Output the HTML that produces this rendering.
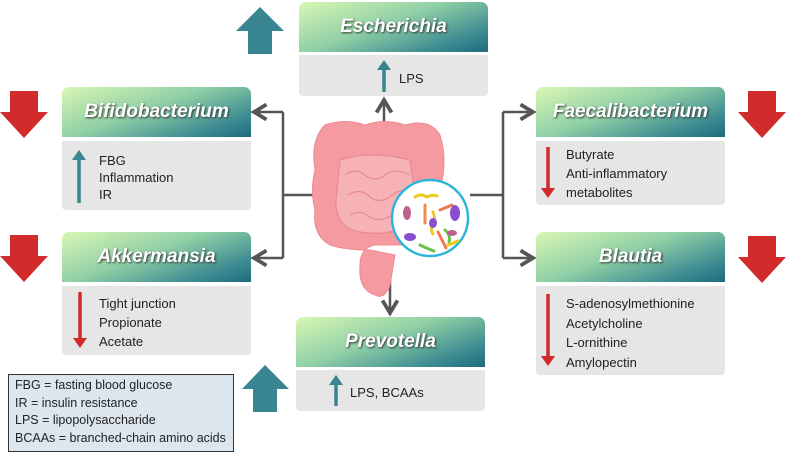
<!DOCTYPE html>
<html><head><style>
body{margin:0;width:787px;height:457px;background:#fff;position:relative;overflow:hidden;font-family:"Liberation Sans",sans-serif;}
.h{position:absolute;width:189px;height:50px;border-radius:7px 7px 0 0;background:linear-gradient(160deg,#d9f7b4 0%,#8fcfa6 45%,#3f8d92 80%,#1f6a80 100%);color:#fff;font-weight:bold;font-style:italic;font-size:19px;text-align:center;line-height:50px;text-shadow:1px 1px 2px #333;}
.b{position:absolute;width:189px;background:#e6e6e6;border-radius:0 0 4px 4px;font-size:13px;color:#222;line-height:17px;}
.b .t{position:absolute;left:37px;}
svg{position:absolute;left:0;top:0;z-index:5;}
.leg{position:absolute;left:8px;top:374px;width:226px;height:78px;border:1.5px solid #333;background:#dce6ee;font-size:12.5px;line-height:17.5px;padding:2px 0 0 6px;box-sizing:border-box;color:#222;}
</style></head><body>
<div class="h" style="left:299px;top:2px">Escherichia</div>
<div class="b" style="left:299px;top:55px;height:41px"><div class="t" style="left:100px;top:15px">LPS</div></div>
<div class="h" style="left:62px;top:87px">Bifidobacterium</div>
<div class="b" style="left:62px;top:141px;height:69px"><div class="t" style="left:37px;top:11px">FBG<br>Inflammation<br>IR</div></div>
<div class="h" style="left:62px;top:232px">Akkermansia</div>
<div class="b" style="left:62px;top:286px;height:69px"><div class="t" style="left:37px;top:8px;line-height:19px">Tight junction<br>Propionate<br>Acetate</div></div>
<div class="h" style="left:536px;top:87px">Faecalibacterium</div>
<div class="b" style="left:536px;top:141px;height:64px"><div class="t" style="left:30px;top:4px;line-height:19px">Butyrate<br>Anti-inflammatory<br>metabolites</div></div>
<div class="h" style="left:536px;top:232px">Blautia</div>
<div class="b" style="left:536px;top:286px;height:89px"><div class="t" style="left:30px;top:8px;line-height:19.5px">S-adenosylmethionine<br>Acetylcholine<br>L-ornithine<br>Amylopectin</div></div>
<div class="h" style="left:296px;top:317px">Prevotella</div>
<div class="b" style="left:296px;top:370px;height:41px"><div class="t" style="left:54px;top:14px">LPS, BCAAs</div></div>
<div class="leg">FBG = fasting blood glucose<br>IR = insulin resistance<br>LPS = lipopolysaccharide<br>BCAAs = branched-chain amino acids</div>
<svg width="787" height="457">
<defs><marker id="a" markerWidth="8" markerHeight="8" refX="6" refY="4" orient="auto"><path d="M1,1 L6,4 L1,7" fill="none" stroke="#555" stroke-width="1.5"/></marker></defs>
<g stroke="#555" stroke-width="2.5" fill="none">
<path d="M283,112 V258"/><path d="M283,112 H254" marker-end="url(#a)"/><path d="M283,258 H254" marker-end="url(#a)"/><path d="M313,195 H283"/>
<path d="M503,112 V258"/><path d="M503,112 H533" marker-end="url(#a)"/><path d="M503,258 H533" marker-end="url(#a)"/><path d="M470,195 H503"/>
<path d="M384,132 V100" marker-end="url(#a)"/><path d="M390,270 V313" marker-end="url(#a)"/>
</g>
<g fill="#f59aa1" stroke="#ee8a92" stroke-width="1">
<path d="M325,125 Q345,118 365,125 Q385,118 405,125 Q430,118 440,135 Q448,160 440,190 L430,230 Q420,245 400,245 L375,245 Q360,248 360,265 Q358,290 375,295 Q385,300 390,285 L395,255 L370,250 Q345,250 330,245 Q312,235 315,210 Q310,190 315,170 Q310,140 325,125Z"/>
</g>
<g fill="#f7b2b8" stroke="#e88a93" stroke-width="1.2">
<path d="M340,160 Q370,150 410,160 L418,215 Q400,238 360,232 Q335,228 336,200Z"/>
<path d="M345,175 q10,-8 20,0 q10,8 20,0 q10,-8 25,0 M348,195 q12,-8 22,2 q10,8 22,-2 q10,-8 20,0 M350,215 q10,-6 20,2 q10,6 22,-2 q10,-6 18,0" fill="none"/>
</g>
<circle cx="430" cy="218" r="38" fill="#fff" stroke="#2cb5da" stroke-width="2.5"/>
<g stroke-width="3" stroke-linecap="round" fill="none">
<path d="M415,197 q6,-4 12,0 q6,-3 10,-1" stroke="#f0c71e"/><path d="M425,205 l0,18" stroke="#f08a4d"/><path d="M433,212 q3,6 0,12 q-3,6 0,10" stroke="#f0c71e"/>
<path d="M440,210 l12,-5" stroke="#f07a4d"/><path d="M445,230 q6,5 4,12" stroke="#6cc24a"/><path d="M420,245 q8,4 14,6" stroke="#6cc24a"/>
<path d="M438,232 l8,16" stroke="#f07a4d"/><path d="M448,245 q6,-2 10,-4" stroke="#f0c71e"/>
</g>
<g fill="#8a4fcf"><ellipse cx="455" cy="213" rx="5" ry="8"/><ellipse cx="433" cy="223" rx="4" ry="5"/><ellipse cx="410" cy="237" rx="6" ry="4"/><ellipse cx="407" cy="213" rx="4" ry="7" fill="#c06090"/><ellipse cx="452" cy="233" rx="5" ry="3" fill="#c06090"/></g>
<g fill="#d12b2b">
<path d="M10,91 H38 V112 H48 L24,138 L0,112 H10Z"/><path d="M10,235 H38 V256 H48 L24,282 L0,256 H10Z"/>
<path d="M748,91 H776 V112 H786 L762,138 L738,112 H748Z"/><path d="M748,236 H776 V257 H786 L762,283 L738,257 H748Z"/>
</g>
<g fill="#3a8592">
<path d="M248,54 H272 V31 H284 L260,7 L236,31 H248Z"/><path d="M253,412 H277 V389 H289 L265,365 L242,389 H253Z"/>
</g>
<g stroke-width="3.5">
<path d="M384,92 V68" stroke="#3a8592"/><path d="M79,203 V158" stroke="#3a8592"/><path d="M336,406 V383" stroke="#3a8592"/>
<path d="M80,292 V340" stroke="#d12b2b"/><path d="M548,147 V190" stroke="#d12b2b"/><path d="M548,294 V358" stroke="#d12b2b"/>
</g>
<g fill="#3a8592"><path d="M377,70 L384,60 L391,70Z"/><path d="M72,160 L79,150 L86,160Z"/><path d="M329,385 L336,375 L343,385Z"/></g>
<g fill="#d12b2b"><path d="M73,338 L80,348 L87,338Z"/><path d="M541,188 L548,198 L555,188Z"/><path d="M541,356 L548,366 L555,356Z"/></g>
</svg>
</body></html>
